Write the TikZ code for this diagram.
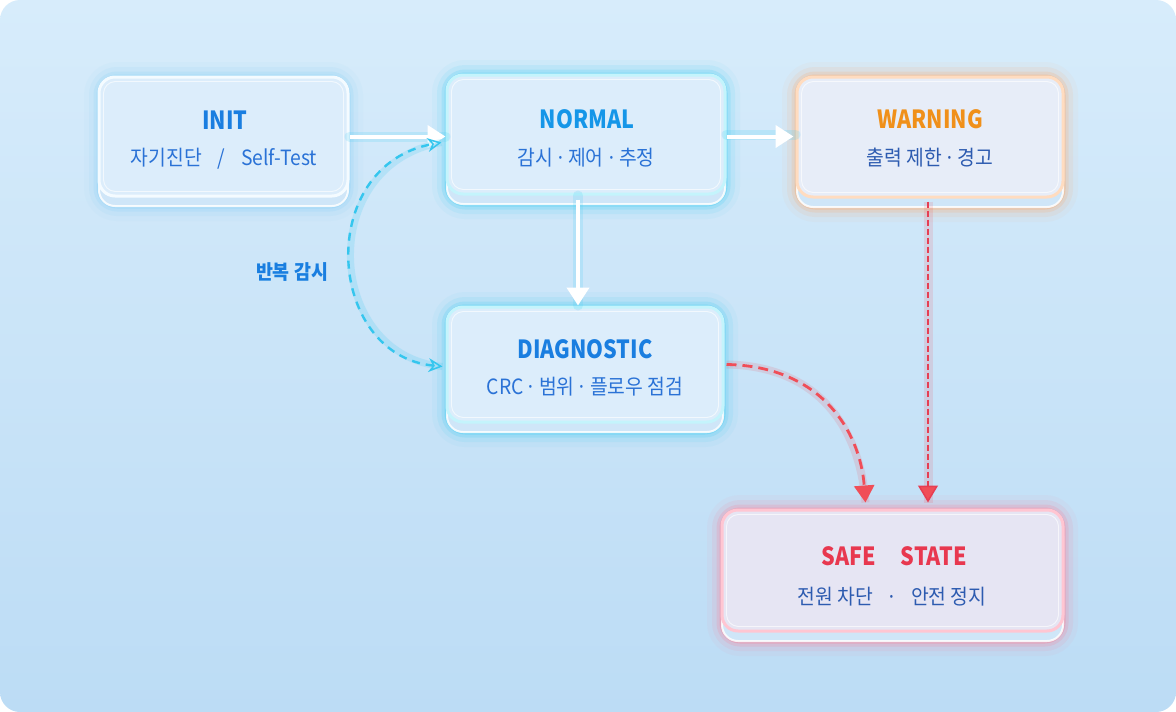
\documentclass[tikz,border=0pt]{standalone}
\usepackage{fontspec}
\setmainfont{Noto Sans CJK KR}
\newfontfamily\condf[FakeStretch=0.92]{Noto Sans CJK KR}
\newfontfamily\condt[FakeStretch=0.86]{Noto Sans CJK KR}
\usetikzlibrary{arrows.meta,calc}
\definecolor{bgtop}{HTML}{D7ECFB}
\definecolor{bgbot}{HTML}{BCDCF5}
\definecolor{slab}{HTML}{CFE6F8}
\definecolor{faceblue}{HTML}{DCEDFB}
\definecolor{facewarn}{HTML}{E7EDF8}
\definecolor{facesafe}{HTML}{E6E5F3}
\definecolor{glowinit}{HTML}{8FD3F7}
\definecolor{glowcyan}{HTML}{4FD0F4}
\definecolor{glowwarn}{HTML}{F8B07A}
\definecolor{glowsafe}{HTML}{F7869E}
\definecolor{bdinit}{HTML}{F4FBFF}
\definecolor{bdcyan}{HTML}{C4F4FC}
\definecolor{bdwarn}{HTML}{FFDCC0}
\definecolor{bdsafe}{HTML}{FFC6D2}
\definecolor{tblue}{HTML}{1A7EE0}
\definecolor{tcyan}{HTML}{1596E8}
\definecolor{torange}{HTML}{F0901A}
\definecolor{tred}{HTML}{E8384F}
\definecolor{sblue}{HTML}{2A72D6}
\definecolor{sdark}{HTML}{2D5BB0}
\definecolor{loopc}{HTML}{35C6EE}
\definecolor{redc}{HTML}{F04E58}
\newcommand\md{\makebox[0.32em]{·}}
\newcommand\boxback[5]{%
  \foreach \w/\o in {30/0.06,20/0.12,11/0.22,5/0.4}{%
    \draw[#1,opacity=\o,line width=\w pt,rounded corners=18pt] (#2,#3) rectangle (#4,#5+10);}
  \fill[slab,rounded corners=16pt] (#2,#3+10) rectangle (#4,#5+10);
  \draw[white,line width=2pt,opacity=0.85,rounded corners=16pt] (#2,#3+10) rectangle (#4,#5+10);
}
\newcommand\innerline[1]{%
  \draw[white,opacity=0.65,line width=0.9pt,rounded corners=12pt]
    ($(#1.north west)+(6,6)$) rectangle ($(#1.south east)+(-6,-6)$);}
\tikzset{
  stbox/.style={rectangle,rounded corners=16pt,line width=3pt,inner sep=0pt},
  ttl/.style={anchor=base,inner sep=0pt,font=\condt\bfseries\fontsize{25}{29}\selectfont},
  sub/.style={anchor=base,inner sep=0pt,font=\condf\fontsize{21}{25}\selectfont},
  glowline/.style={line width=10pt,opacity=0.2,line cap=round},
  solidarrow/.style={draw=white,line width=4pt,-{Triangle[width=22pt,length=18pt,fill=white]}},
}
\begin{document}
\begin{tikzpicture}[x=1pt,y=-1pt]
\useasboundingbox (0,0) rectangle (1176,712);
\fill[white] (0,0) rectangle (1176,712);
\shade[top color=bgtop,bottom color=bgbot,rounded corners=20pt] (0,0) rectangle (1176,712);

% box backs
\boxback{glowinit}{99}{77}{348}{196}
\boxback{glowcyan}{447}{75}{725}{194}
\boxback{glowwarn}{797}{77}{1063}{197}
\boxback{glowcyan}{447}{307}{723}{422}
\boxback{glowsafe}{722}{510}{1063}{631}

% nodes
\node[stbox,draw=bdinit,fill=faceblue,minimum width=249pt,minimum height=119pt] (init) at (223.5,136.5) {};
\node[stbox,draw=bdcyan,fill=faceblue,minimum width=278pt,minimum height=119pt] (normal) at (586,134.5) {};
\node[stbox,draw=bdwarn,fill=facewarn,minimum width=266pt,minimum height=120pt] (warning) at (930,137) {};
\node[stbox,draw=bdcyan,fill=faceblue,minimum width=276pt,minimum height=115pt] (diag) at (585,364.5) {};
\node[stbox,draw=bdsafe,fill=facesafe,minimum width=341pt,minimum height=121pt] (safe) at (892.5,570.5) {};
\innerline{init}\innerline{normal}\innerline{warning}\innerline{diag}\innerline{safe}

% texts
\node[ttl,text=tblue] (initT) at (225,129) {INIT};
\node[sub,text=sblue] (initS) at (224,165) {자기진단\hspace{0.75em}/\hspace{0.75em}Self-Test};
\node[ttl,text=tcyan] (normalT) at (587,128) {NORMAL};
\node[sub,text=sblue] (normalS) at (586,165) {감시 \md{} 제어 \md{} 추정};
\node[ttl,text=torange] (warningT) at (930,128) {WARNING};
\node[sub,text=sdark] (warningS) at (930,165) {출력 제한 \md{} 경고};
\node[ttl,text=tblue] (diagT) at (585,358) {DIAGNOSTIC};
\node[sub,text=sblue] (diagS) at (585,394) {CRC \md{} 범위 \md{} 플로우 점검};
\node[ttl,text=tred] (safeT) at (894,565) {SAFE\hspace{1em}STATE};
\node[sub,text=sdark] (safeS) at (892,604) {전원 차단\hspace{0.75em}\md\hspace{0.75em}안전 정지};

% loop label
\node[inner sep=0pt,font=\condf\bfseries\fontsize{20}{24}\selectfont,text=loopc!60!white,opacity=0.35] at (292,272) {반복 감시};
\node[inner sep=0pt,font=\condf\bfseries\fontsize{20}{24}\selectfont,text=tblue] (loop) at (292,272) {반복 감시};

% solid arrows with glow
\draw[glowcyan,glowline] (init.east) -- (normal.west |- init.east);
\draw[solidarrow] (init.east) -- (normal.west |- init.east);
\draw[glowcyan,glowline] (normal.east) -- (warning.west |- normal.east);
\draw[solidarrow] ($(normal.east)+(0,2)$) -- ($(warning.west |- normal.east)+(-2,2)$);
\draw[glowcyan,glowline] ($(normal.south)+(-8,0)$) -- ($(diag.north)+(-7,0)$);
\draw[solidarrow] ($(normal.south)+(-8,4)$) -- ($(diag.north)+(-7,0)$);

% loop dashed curve
\draw[loopc,line width=7pt,opacity=0.18] ($(diag.west)+(-3,2)$) .. controls (325,355) and (315,165) .. ($(normal.west)+(-4,8)$);
\draw[loopc,line width=2.4pt,dash pattern=on 8pt off 6pt,
  {Stealth[length=14pt,width=14pt,open,line width=1.5pt]}-{Stealth[length=14pt,width=14pt,open,line width=1.5pt]}]
  ($(diag.west)+(-3,2)$) .. controls (325,355) and (315,165) .. ($(normal.west)+(-4,8)$);

% red dashed curve diag -> safe
\draw[redc,line width=8pt,opacity=0.15] ($(diag.east)+(2,0)$) .. controls (820,366) and (860,430) .. ($(safe.north)+(-27,-6)$);
\draw[redc,line width=2.8pt,dash pattern=on 10pt off 6pt,-{Triangle[width=20pt,length=17pt]}]
  ($(diag.east)+(2,0)$) .. controls (820,366) and (860,430) .. ($(safe.north)+(-27,-6)$);

% warning -> safe
\draw[redc,line width=9pt,opacity=0.15] ($(warning.south)+(-2,3)$) -- ($(warning.south |- safe.north)+(-2,-6)$);
\draw[redc!80!purple,line width=1.5pt,dash pattern=on 6pt off 3pt,-{Triangle[width=20pt,length=17pt,fill=redc]}]
  ($(warning.south)+(-2,3)$) -- ($(warning.south |- safe.north)+(-2,-6)$);
\end{tikzpicture}
\end{document}
